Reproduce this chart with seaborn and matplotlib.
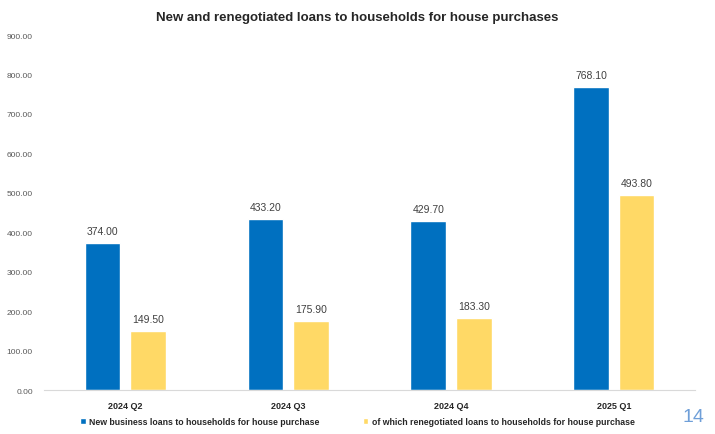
import matplotlib
matplotlib.use("Agg")
import matplotlib.pyplot as plt
import seaborn as sns
import pandas as pd

quarters = ["2024 Q2", "2024 Q3", "2024 Q4", "2025 Q1"]
new_loans = [374.00, 433.20, 429.70, 768.10]
renegotiated = [149.50, 175.90, 183.30, 493.80]
series_names = ["New business loans to households for house purchase",
                "of which renegotiated loans to households for house purchase"]

df = pd.DataFrame({
    "quarter": quarters * 2,
    "value": new_loans + renegotiated,
    "series": [series_names[0]] * 4 + [series_names[1]] * 4,
})

sns.set_style("white")
plt.rcParams['font.family'] = ['Liberation Sans', 'DejaVu Sans']

fig = plt.figure(figsize=(7.15, 4.35), dpi=100)
ax = fig.add_axes([0.0615, 0.101, 0.911, 0.816])

palette = {series_names[0]: "#0070C0", series_names[1]: "#FFD966"}
sns.barplot(data=df, x="quarter", y="value", hue="series", palette=palette,
            width=0.56, gap=0.22, ax=ax, saturation=1)

for c in ax.containers:
    ax.bar_label(c, labels=[f"{v:.2f}" for v in c.datavalues], padding=5,
                 fontsize=7.5, color="#404040")

ax.set_ylim(0, 900)
ax.set_yticks(range(0, 901, 100))
ax.set_yticklabels([f"{v:.2f}" for v in range(0, 901, 100)], fontsize=6, color="#595959")
ax.tick_params(axis="x", labelsize=6.5, length=0, pad=8)
for t in ax.get_xticklabels():
    t.set_fontweight("bold")
ax.tick_params(axis="y", length=0, pad=8)
ax.set_xlabel("")
ax.set_ylabel("")
for s in ["top", "right", "left"]:
    ax.spines[s].set_visible(False)
ax.spines["bottom"].set_color("#d9d9d9")

fig.suptitle("New and renegotiated loans to households for house purchases",
             x=0.5, y=0.972, fontsize=9.5, fontweight="bold")

handles, labels = ax.get_legend_handles_labels()
ax.get_legend().remove()
leg = fig.legend(handles, labels, loc="center", bbox_to_anchor=(0.5, 0.028), ncol=2,
                 frameon=False, fontsize=6.3, handlelength=0.6, handleheight=0.6,
                 columnspacing=5, handletextpad=0.4)
for t in leg.get_texts():
    t.set_fontweight("bold")
    t.set_color("#262626")

fig.text(0.985, 0.02, "14", fontsize=14, color="#6f9fd8", ha="right", va="bottom")

fig.savefig("out.png", dpi=100)
